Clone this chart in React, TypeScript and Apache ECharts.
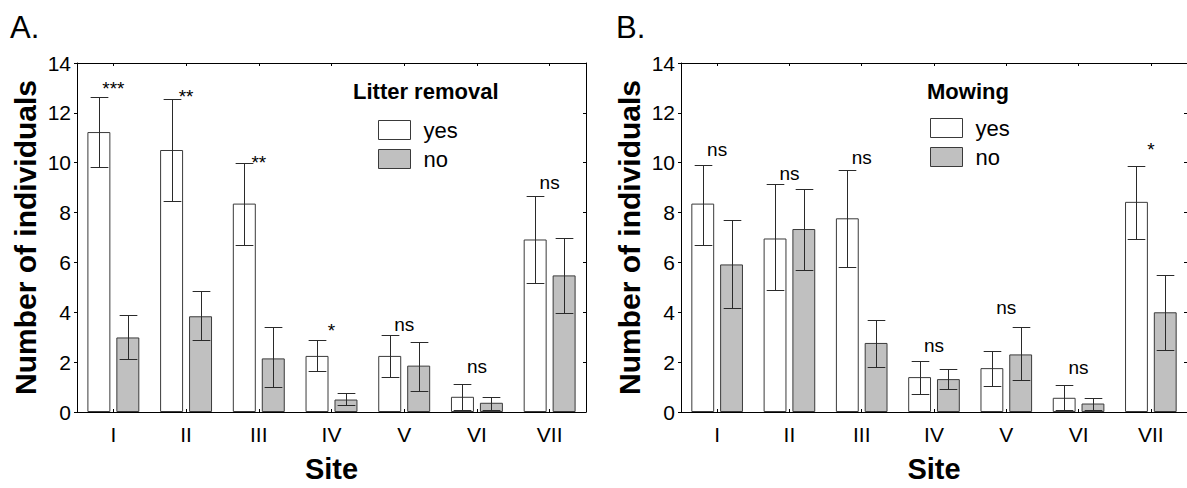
import React, { useEffect, useRef } from "react";
import * as echarts from "echarts";

const FONT = 'Arial, "Liberation Sans", Helvetica, sans-serif';

const categories = ["I", "II", "III", "IV", "V", "VI", "VII"];

// Panel A: Litter removal
const litterYes = [11.23, 10.51, 8.36, 2.25, 2.25, 0.61, 6.92];
const litterYesHi = [12.65, 12.55, 9.97, 2.9, 3.1, 1.12, 8.66];
const litterYesLo = [9.83, 8.48, 6.68, 1.65, 1.42, 0.09, 5.19];
const litterNo = [2.99, 3.84, 2.15, 0.5, 1.86, 0.37, 5.48];
const litterNoHi = [3.89, 4.84, 3.39, 0.78, 2.82, 0.61, 6.97];
const litterNoLo = [2.14, 2.87, 0.99, 0.29, 0.86, 0.1, 3.99];
const litterSig = ["***", "**", "**", "*", "ns", "ns", "ns"];
const litterSigAt = [12.97, 12.66, 10.02, 3.28, 3.53, 1.82, 9.2];

// Panel B: Mowing
const mowYes = [8.36, 6.96, 7.77, 1.4, 1.76, 0.57, 8.43];
const mowYesHi = [9.92, 9.13, 9.71, 2.06, 2.46, 1.08, 9.88];
const mowYesLo = [6.71, 4.88, 5.8, 0.74, 1.06, 0.09, 6.93];
const mowNo = [5.92, 7.34, 2.77, 1.32, 2.31, 0.34, 4.0];
const mowNoHi = [7.69, 8.95, 3.69, 1.72, 3.41, 0.57, 5.48];
const mowNoLo = [4.16, 5.7, 1.8, 0.93, 1.28, 0.09, 2.49];
const mowSig = ["ns", "ns", "ns", "ns", "ns", "ns", "*"];
const mowSigAt = [10.53, 9.56, 10.2, 2.66, 4.18, 1.8, 10.52];

const yMin = 0;
const yMax = 14;
const yStep = 2;

const panelLabels = ["A.", "B."];
const legendTitles = ["Litter removal", "Mowing"];
const yName = "Number of individuals";
const xName = "Site";

const EDGE = "#3a3a3a";

function buildOption() {
  const panels = [
    {
      left: 77,
      yes: litterYes, yesHi: litterYesHi, yesLo: litterYesLo,
      no: litterNo, noHi: litterNoHi, noLo: litterNoLo,
      sig: litterSig, sigAt: litterSigAt,
      legendLeft: 378, legendTop: 119, titleLeft: 353, titleTop: 80,
      labelLeft: 10,
    },
    {
      left: 681,
      yes: mowYes, yesHi: mowYesHi, yesLo: mowYesLo,
      no: mowNo, noHi: mowNoHi, noLo: mowNoLo,
      sig: mowSig, sigAt: mowSigAt,
      legendLeft: 930, legendTop: 117, titleLeft: 927, titleTop: 80,
      labelLeft: 616,
    },
  ];

  const grid: any[] = [];
  const xAxis: any[] = [];
  const yAxis: any[] = [];
  const series: any[] = [];
  const legend: any[] = [];
  const title: any[] = [];

  panels.forEach((p, k) => {
    grid.push({ left: p.left, top: 63, width: 509, height: 353.5, containLabel: false });

    xAxis.push({
      type: "category",
      gridIndex: k,
      position: "bottom",
      data: categories,
      axisLine: { show: true, onZero: false, lineStyle: { color: "#000", width: 1 } },
      axisTick: { show: true, inside: true, length: 3, alignWithLabel: true, lineStyle: { color: "#000" } },
      axisLabel: { fontSize: 21, color: "#000", fontFamily: FONT, margin: 12 },
      name: xName,
      nameLocation: "middle",
      nameGap: 42,
      nameTextStyle: { fontSize: 29, fontWeight: "bold", color: "#000", fontFamily: FONT },
      splitLine: { show: false },
    });
    xAxis.push({
      type: "category",
      gridIndex: k,
      position: "top",
      data: categories,
      axisLine: { show: true, onZero: false, lineStyle: { color: "#000", width: 1 } },
      axisTick: { show: true, inside: true, length: 3, alignWithLabel: true, lineStyle: { color: "#000" } },
      axisLabel: { show: false },
      splitLine: { show: false },
    });

    yAxis.push({
      type: "value",
      gridIndex: k,
      position: "left",
      min: yMin,
      max: yMax,
      interval: yStep,
      axisLine: { show: true, lineStyle: { color: "#000", width: 1 } },
      axisTick: { show: true, inside: false, length: 3, lineStyle: { color: "#000" } },
      axisLabel: { fontSize: 21, color: "#000", fontFamily: FONT, margin: 6 },
      splitLine: { show: false },
      name: yName,
      nameLocation: "middle",
      nameRotate: 90,
      nameGap: 37,
      nameTextStyle: { fontSize: 30, fontWeight: "bold", color: "#000", fontFamily: FONT },
    });
    yAxis.push({
      type: "value",
      gridIndex: k,
      position: "right",
      min: yMin,
      max: yMax,
      interval: yStep,
      axisLine: { show: true, lineStyle: { color: "#000", width: 1 } },
      axisTick: { show: true, inside: true, length: 3, lineStyle: { color: "#000" } },
      axisLabel: { show: false },
      splitLine: { show: false },
    });

    const xi = 2 * k;
    const yi = 2 * k;

    series.push({
      type: "bar",
      name: "yes",
      xAxisIndex: xi,
      yAxisIndex: yi,
      data: p.yes,
      barWidth: "31.6%",
      barGap: "26%",
      itemStyle: { color: "#ffffff", borderColor: EDGE, borderWidth: 1 },
      emphasis: { disabled: true },
    });
    series.push({
      type: "bar",
      name: "no",
      xAxisIndex: xi,
      yAxisIndex: yi,
      data: p.no,
      barWidth: "31.6%",
      barGap: "26%",
      itemStyle: { color: "#c0c0c0", borderColor: EDGE, borderWidth: 1 },
      emphasis: { disabled: true },
    });

    const errData: number[][] = [];
    categories.forEach((_, i) => errData.push([i, p.yesLo[i], p.yesHi[i], -1]));
    categories.forEach((_, i) => errData.push([i, p.noLo[i], p.noHi[i], 1]));

    series.push({
      type: "custom",
      name: "error bars",
      xAxisIndex: xi,
      yAxisIndex: yi,
      data: errData,
      encode: { x: 0, y: [1, 2] },
      z: 10,
      silent: true,
      renderItem: (params: any, api: any) => {
        const cat = api.value(0);
        const lo = api.value(1);
        const hi = api.value(2);
        const side = api.value(3);
        const band = api.size([1, 0])[0];
        const dx = side * band * 0.199;
        const half = band * 0.122;
        const pLo = api.coord([cat, lo]);
        const pHi = api.coord([cat, hi]);
        const x = Math.round(pLo[0] + dx) + 0.5;
        const yH = Math.round(pHi[1]) + 0.5;
        const yL = Math.round(pLo[1]) + 0.5;
        const style = { stroke: "#2a2a2a", lineWidth: 1 };
        return {
          type: "group",
          children: [
            { type: "line", shape: { x1: x, y1: yH, x2: x, y2: yL }, style },
            { type: "line", shape: { x1: x - half, y1: yH, x2: x + half, y2: yH }, style },
            { type: "line", shape: { x1: x - half, y1: yL, x2: x + half, y2: yL }, style },
          ],
        };
      },
    });

    const sigData = categories.map((_, i) => [i, p.sigAt[i]]);
    const sigText = p.sig;
    series.push({
      type: "custom",
      name: "significance",
      xAxisIndex: xi,
      yAxisIndex: yi,
      data: sigData,
      encode: { x: 0, y: 1 },
      z: 11,
      silent: true,
      renderItem: (params: any, api: any) => {
        const pt = api.coord([api.value(0), api.value(1)]);
        return {
          type: "text",
          x: pt[0],
          y: pt[1],
          style: {
            text: sigText[params.dataIndex],
            fontSize: 19,
            fontFamily: FONT,
            fill: "#000",
            align: "center",
            verticalAlign: "middle",
          },
        };
      },
    });

    legend.push({
      orient: "vertical",
      left: p.legendLeft,
      top: p.legendTop,
      padding: 0,
      itemWidth: 32,
      itemHeight: 19,
      itemGap: 7,
      icon: "rect",
      selectedMode: false,
      data: ["yes", "no"],
      itemStyle: { borderColor: EDGE, borderWidth: 1 },
      textStyle: { fontSize: 22, color: "#000", fontFamily: FONT, padding: [0, 0, 0, 8] },
    });

    title.push({
      text: legendTitles[k],
      left: p.titleLeft,
      top: p.titleTop,
      padding: 0,
      textStyle: { fontSize: 22, fontWeight: "bold", color: "#000", fontFamily: FONT },
    });
    title.push({
      text: panelLabels[k],
      left: p.labelLeft,
      top: 12,
      padding: 0,
      textStyle: { fontSize: 31, fontWeight: "normal", color: "#000", fontFamily: FONT },
    });
  });

  return {
    animation: false,
    backgroundColor: "#ffffff",
    textStyle: { fontFamily: FONT },
    title,
    legend,
    grid,
    xAxis,
    yAxis,
    series,
  };
}

export default function App() {
  const ref = useRef<HTMLDivElement>(null);
  useEffect(() => {
    if (!ref.current) return;
    const chart = echarts.init(ref.current, null, { renderer: "svg" });
    chart.setOption(buildOption() as any);
    return () => {
      chart.dispose();
    };
  }, []);
  return (
    <div
      ref={ref}
      style={{ position: "fixed", left: 0, top: 0, width: 1187, height: 488, background: "#fff" }}
    />
  );
}
